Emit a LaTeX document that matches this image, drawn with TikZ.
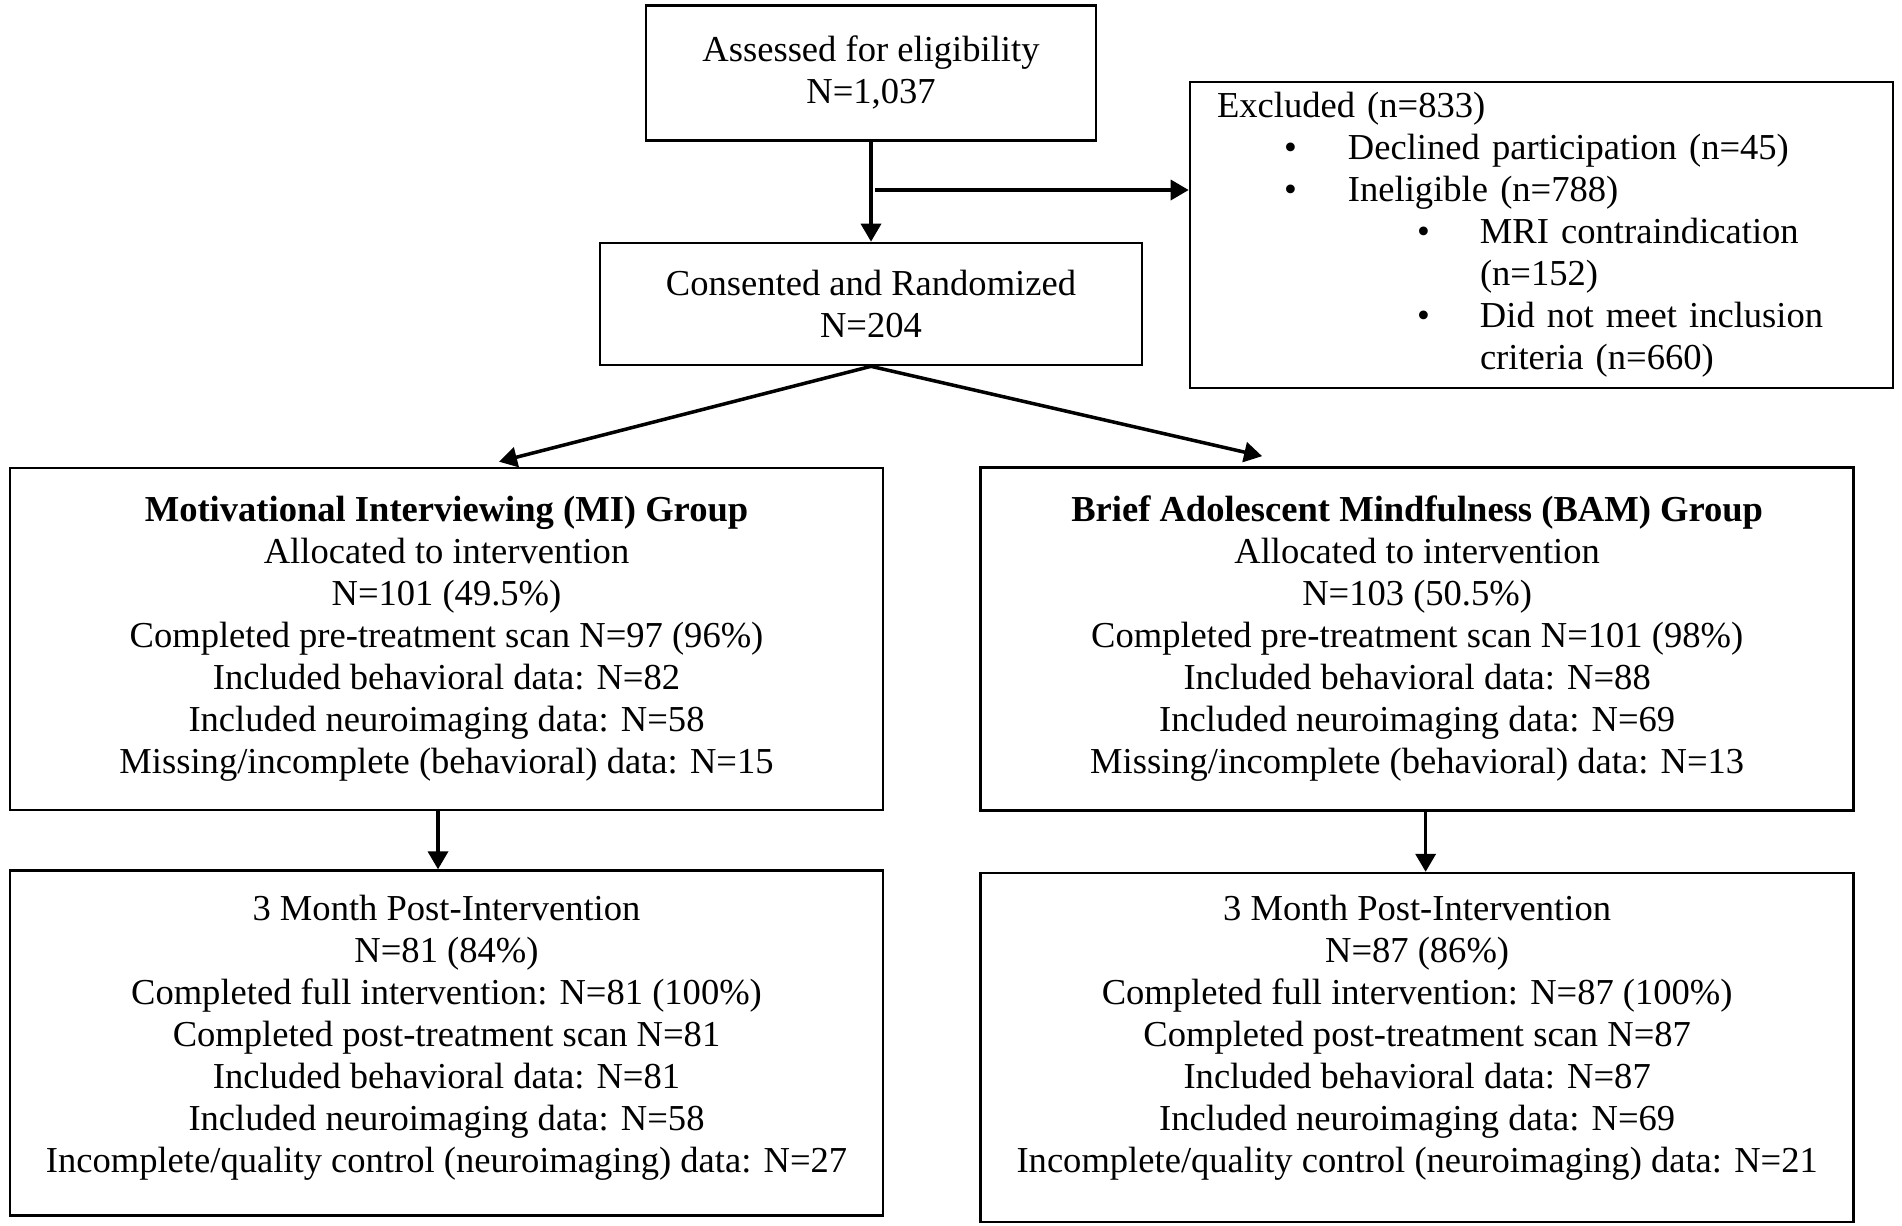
\documentclass[tikz,border=0pt]{standalone}
\usepackage{fontspec}
\setmainfont{Liberation Serif}
\usetikzlibrary{positioning,arrows.meta}

\tikzset{
box/.style={draw, line width=1.5pt, align=center, inner sep=0pt, font=\fontsize{20.8}{23.9}\selectfont},
arr/.style={line width=2pt, -{Triangle[length=0.36cm,width=0.4cm]}},
}

\begin{document}
\begin{tikzpicture}
\useasboundingbox (0,0) rectangle (38.04,-24.5);
\node[box, minimum width=10.84cm, minimum height=2.44cm](cr) at (17.42,-6.08) {Consented and Randomized\\N=204};
\node[box, minimum width=9cm, minimum height=2.7cm, above=2cm of cr](as) {Assessed for eligibility\\N=1,037};
\node[box, align=left, text width=12.98cm, inner xsep=0.54cm, minimum height=6.12cm](ex) at (30.83,-4.70) {Excluded (n=833)\\
\hspace*{1.34cm}\makebox[1.28cm][l]{\textbullet}Declined participation (n=45)\\
\hspace*{1.34cm}\makebox[1.28cm][l]{\textbullet}Ineligible (n=788)\\
\hspace*{4.0cm}\makebox[1.26cm][l]{\textbullet}MRI contraindication\\
\hspace*{5.26cm}(n=152)\\
\hspace*{4.0cm}\makebox[1.26cm][l]{\textbullet}Did not meet inclusion\\
\hspace*{5.26cm}criteria (n=660)};
\node[box, minimum width=17.46cm, minimum height=6.84cm](mi) at (8.93,-12.78) {\textbf{Motivational Interviewing (MI) Group}\\Allocated to intervention\\N=101 (49.5\%)\\Completed pre-treatment scan N=97 (96\%)\\Included behavioral data: N=82\\Included neuroimaging data: N=58\\Missing/incomplete (behavioral) data: N=15};
\node[box, minimum width=17.46cm, minimum height=6.86cm, right=1.9cm of mi](bam) {\textbf{Brief Adolescent Mindfulness (BAM) Group}\\Allocated to intervention\\N=103 (50.5\%)\\Completed pre-treatment scan N=101 (98\%)\\Included behavioral data: N=88\\Included neuroimaging data: N=69\\Missing/incomplete (behavioral) data: N=13};
\node[box, minimum width=17.46cm, minimum height=6.9cm, below=1.16cm of mi](mi3) {3 Month Post-Intervention\\N=81 (84\%)\\Completed full intervention: N=81 (100\%)\\Completed post-treatment scan N=81\\Included behavioral data: N=81\\Included neuroimaging data: N=58\\Incomplete/quality control (neuroimaging) data: N=27\rule[-0.36cm]{0pt}{0pt}};
\node[box, minimum width=17.46cm, minimum height=6.98cm, below=1.2cm of bam](bam3) {3 Month Post-Intervention\\N=87 (86\%)\\Completed full intervention: N=87 (100\%)\\Completed post-treatment scan N=87\\Included behavioral data: N=87\\Included neuroimaging data: N=69\\Incomplete/quality control (neuroimaging) data: N=21\rule[-0.56cm]{0pt}{0pt}};
\coordinate (sp) at (17.5,-3.8);
\draw[arr] (as.south) -- (cr.north);
\draw[arr] (sp) -- (sp -| ex.west);
\draw[arr] (cr.south) -- ([shift={(1.05,0.1)}]mi.north);
\draw[arr] (cr.south) -- ([shift={(-3.1,0.2)}]bam.north);
\draw[arr] ([xshift=-0.17cm]mi.south) -- ([xshift=-0.17cm]mi3.north);
\draw[arr] ([xshift=0.17cm]bam.south) -- ([xshift=0.17cm]bam3.north);
\end{tikzpicture}
\end{document}
